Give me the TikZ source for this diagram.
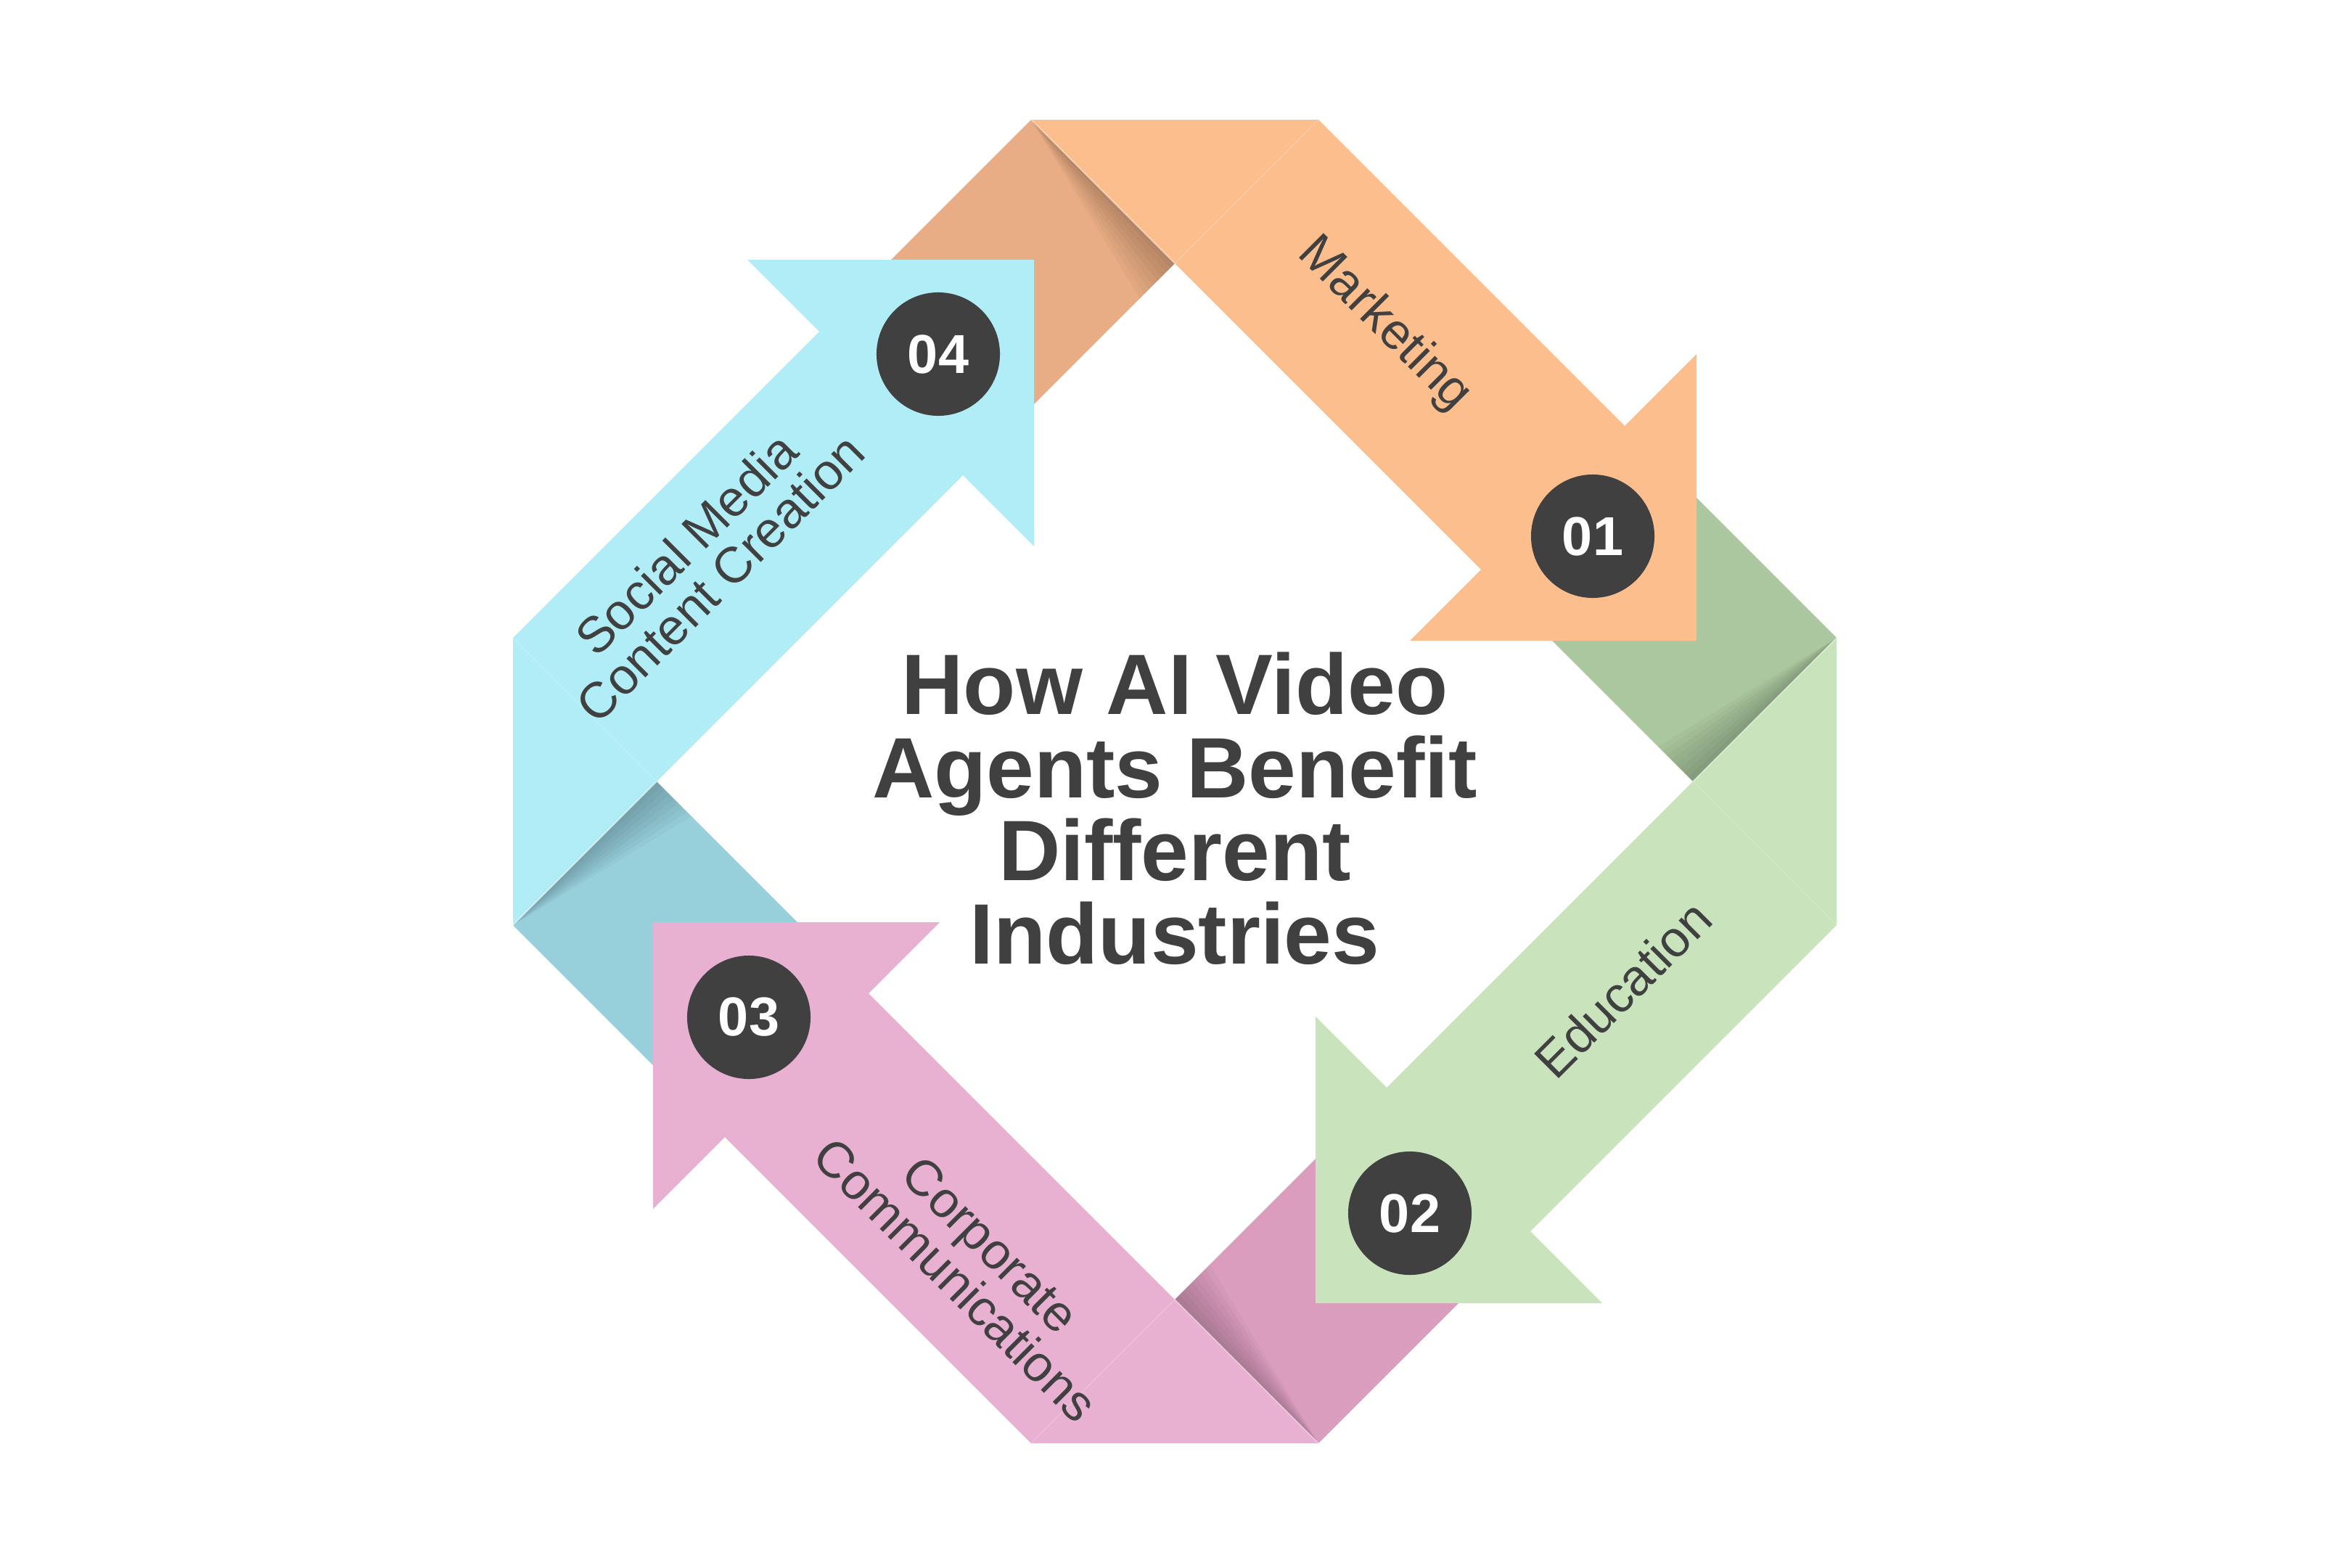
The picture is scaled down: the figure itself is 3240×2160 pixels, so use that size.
\documentclass[tikz,border=0pt]{standalone}
\usepackage{fontspec}
\setmainfont{Liberation Sans}
\usetikzlibrary{calc}
\definecolor{olight}{HTML}{FDBE8D}
\definecolor{odark}{HTML}{E8AD84}
\definecolor{glight}{HTML}{C9E4BC}
\definecolor{gdark}{HTML}{ABC79F}
\definecolor{plight}{HTML}{E8B1D1}
\definecolor{pdark}{HTML}{DA9DBE}
\definecolor{clight}{HTML}{B0EDF6}
\definecolor{cdark}{HTML}{97CFDA}
\definecolor{ink}{HTML}{404040}
\begin{document}
\begin{tikzpicture}[x=0.01cm,y=-0.01cm,
  titletext/.style={font=\fontsize{33.6}{33.6}\selectfont\bfseries, text=ink, inner sep=0pt, anchor=base},
  lbl/.style={font=\fontsize{19.8}{19.8}\selectfont, text=ink, inner sep=0pt, anchor=base},
  badgenode/.style={circle, fill=ink, text=white, minimum size=1.7cm, inner sep=0pt, font=\fontsize{21.5}{21.5}\selectfont\bfseries},
  shadowlayer/.style={fill=black, fill opacity=0.028},
  crease/.style={draw=white, draw opacity=0.15, line width=0.5pt},
  foldline/.style={draw=white, draw opacity=0.45, line width=0.5pt},
]
\fill[white] (0,0) rectangle (3240,2160);
\useasboundingbox (0,0) rectangle (3240,2160);
\coordinate (C) at (1619,1077);

% back (folded) faces with their shadows
\foreach \k/\dk in {0/odark,1/gdark,2/pdark,3/cdark}{
  \begin{scope}[shift={(C)}, rotate=-90*\k]
    \fill[\dk] (-198,-912) -- (0,-714) -- (-198,-516) -- (-396,-714) -- cycle;
    \foreach \s in {6,12,...,48}{
      \fill[shadowlayer] (-198,-912) -- (0,-714) -- (-\s,-714+\s) -- cycle;
    }
  \end{scope}
}

% front faces of the ribbon arrows
\foreach \k/\lt in {0/olight,1/glight,2/plight,3/clight}{
  \begin{scope}[shift={(C)}, rotate=-90*\k]
    \fill[\lt] (-198,-912) -- (198,-912) -- (620,-490) -- (719,-589) -- (719,-194)
               -- (324,-194) -- (422,-292) -- (0,-714) -- cycle;
    \draw[crease] (0,-714) -- (198,-912);
    \draw[foldline] (-198,-912) -- (0,-714);
  \end{scope}
}

% title
\node[titletext] (t1) at (1619,984) {How AI Video};
\node[titletext] (t2) at (1619,1099) {Agents Benefit};
\node[titletext] (t3) at (1619,1213) {Different};
\node[titletext] (t4) at (1619,1328) {Industries};

% labels
\node[lbl, rotate=-45] (l1) at (1895,460) {Marketing};
\node[lbl, rotate=45] (l2) at (2254,1381) {Education};
\node[lbl, rotate=-45] (l3a) at (1348,1732) {Corporate};
\node[lbl, rotate=-45] (l3b) at (1300,1781) {Communications};
\node[lbl, rotate=45] (l4a) at (963,767) {Social Media};
\node[lbl, rotate=45] (l4b) at (1010,814) {Content Creation};

% badges
\node[badgenode] (n1) at (2195,739) {01};
\node[badgenode] (n2) at (1943,1672) {02};
\node[badgenode] (n3) at (1032,1402) {03};
\node[badgenode] (n4) at (1293,488) {04};
\end{tikzpicture}
\end{document}
